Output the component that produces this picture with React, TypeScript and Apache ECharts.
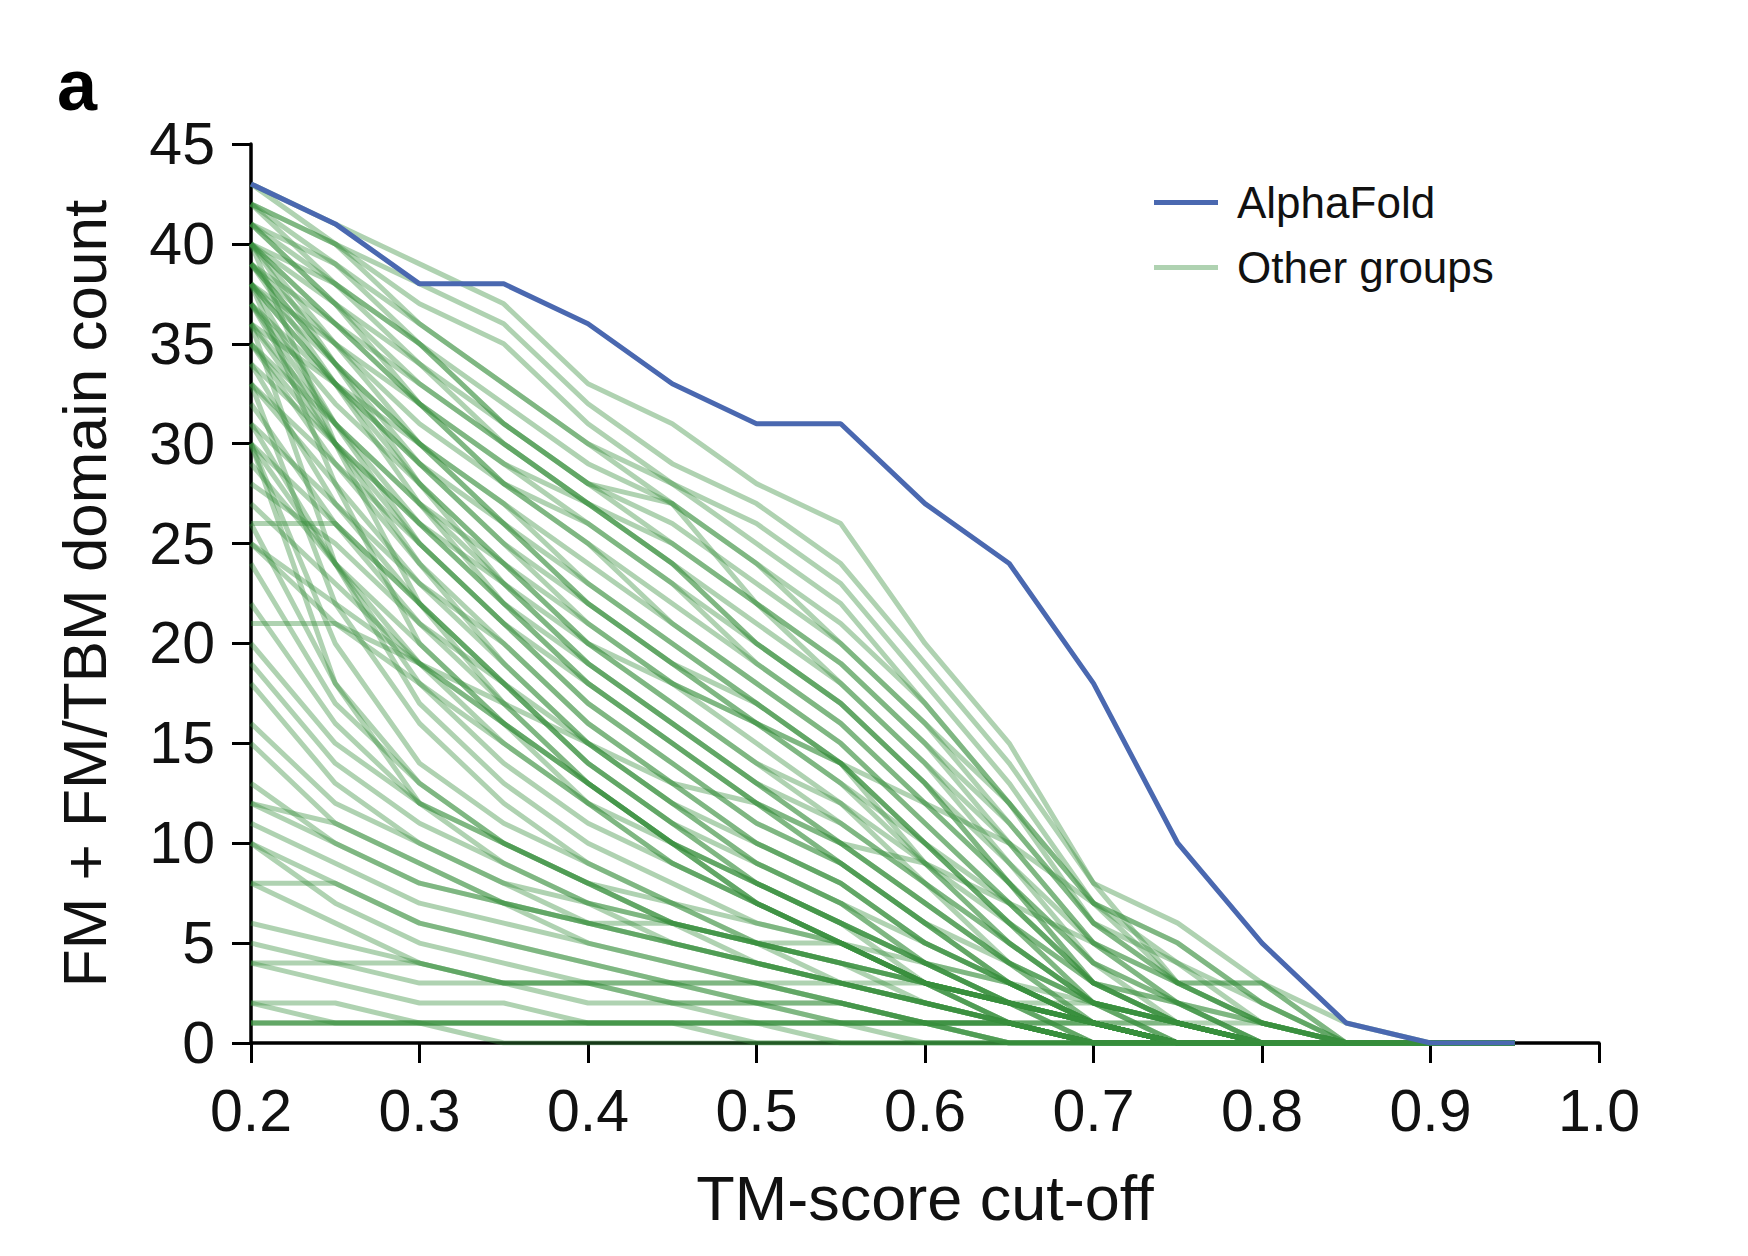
import React, { useEffect, useRef } from "react";
import * as echarts from "echarts";

const xValues = [0.2, 0.25, 0.3, 0.35, 0.4, 0.45, 0.5, 0.55, 0.6, 0.65, 0.7, 0.75, 0.8, 0.85, 0.9, 0.95];
const xTickLabels = ["0.2", "0.3", "0.4", "0.5", "0.6", "0.7", "0.8", "0.9", "1.0"];
const yTickLabels = ["0", "5", "10", "15", "20", "25", "30", "35", "40", "45"];

const alphaFold = [43, 41, 38, 38, 36, 33, 31, 31, 27, 24, 18, 10, 5, 1, 0, 0];

const otherGroups: number[][] = [
  [43, 41, 39, 37, 33, 31, 28, 26, 20, 15, 8, 6, 3, 1, 0, 0],
  [42, 40, 38, 36, 32, 29, 27, 24, 19, 14, 8, 3, 3, 0, 0, 0],
  [42, 40, 37, 35, 31, 28, 26, 23, 18, 13, 7, 5, 2, 0, 0, 0],
  [41, 39, 36, 33, 30, 28, 25, 22, 17, 12, 7, 4, 2, 0, 0, 0],
  [43, 40, 36, 33, 30, 27, 24, 21, 17, 12, 6, 4, 1, 0, 0, 0],
  [41, 38, 35, 32, 29, 27, 24, 20, 16, 11, 6, 3, 1, 0, 0, 0],
  [40, 38, 35, 31, 28, 26, 23, 20, 16, 12, 7, 5, 2, 0, 0, 0],
  [42, 39, 35, 31, 28, 25, 22, 19, 15, 11, 6, 3, 1, 0, 0, 0],
  [40, 37, 34, 31, 28, 27, 22, 19, 15, 10, 5, 3, 1, 0, 0, 0],
  [41, 37, 33, 30, 27, 25, 22, 18, 14, 10, 5, 2, 1, 0, 0, 0],
  [39, 36, 33, 30, 27, 24, 21, 18, 14, 9, 5, 2, 0, 0, 0, 0],
  [40, 36, 32, 29, 27, 24, 20, 17, 13, 9, 4, 2, 0, 0, 0, 0],
  [42, 38, 34, 30, 27, 24, 20, 17, 13, 8, 4, 2, 1, 0, 0, 0],
  [39, 35, 32, 29, 26, 23, 20, 17, 13, 8, 4, 1, 0, 0, 0, 0],
  [38, 35, 31, 28, 26, 23, 19, 16, 12, 8, 3, 1, 0, 0, 0, 0],
  [40, 36, 32, 28, 25, 22, 19, 16, 12, 8, 3, 2, 0, 0, 0, 0],
  [41, 37, 32, 28, 25, 21, 18, 15, 11, 7, 3, 1, 0, 0, 0, 0],
  [38, 34, 30, 27, 24, 21, 18, 15, 11, 7, 3, 1, 0, 0, 0, 0],
  [39, 34, 30, 27, 23, 20, 17, 14, 10, 6, 3, 1, 0, 0, 0, 0],
  [37, 33, 30, 26, 23, 20, 17, 14, 10, 6, 2, 1, 0, 0, 0, 0],
  [40, 35, 30, 26, 22, 19, 17, 14, 10, 7, 3, 2, 0, 0, 0, 0],
  [38, 33, 29, 25, 22, 19, 16, 13, 9, 6, 2, 1, 0, 0, 0, 0],
  [36, 33, 29, 26, 22, 19, 16, 13, 10, 6, 3, 1, 0, 0, 0, 0],
  [39, 34, 29, 25, 21, 18, 16, 14, 9, 5, 2, 0, 0, 0, 0, 0],
  [37, 32, 28, 24, 21, 18, 15, 12, 9, 5, 2, 1, 0, 0, 0, 0],
  [38, 33, 28, 24, 20, 17, 14, 11, 8, 5, 2, 0, 0, 0, 0, 0],
  [36, 31, 27, 24, 20, 17, 14, 12, 8, 5, 2, 1, 0, 0, 0, 0],
  [40, 34, 28, 23, 19, 16, 13, 11, 8, 4, 1, 0, 0, 0, 0, 0],
  [35, 31, 27, 23, 19, 16, 13, 10, 7, 4, 1, 0, 0, 0, 0, 0],
  [37, 31, 26, 22, 19, 16, 13, 10, 7, 4, 2, 0, 0, 0, 0, 0],
  [39, 33, 27, 22, 18, 15, 12, 10, 7, 4, 2, 1, 0, 0, 0, 0],
  [34, 30, 26, 22, 18, 15, 12, 9, 6, 3, 1, 0, 0, 0, 0, 0],
  [36, 30, 25, 21, 18, 15, 12, 9, 6, 3, 1, 0, 0, 0, 0, 0],
  [38, 31, 25, 21, 17, 14, 11, 9, 6, 3, 1, 0, 0, 0, 0, 0],
  [33, 29, 25, 21, 17, 14, 11, 9, 6, 4, 2, 1, 0, 0, 0, 0],
  [35, 29, 24, 20, 16, 13, 10, 8, 5, 3, 1, 0, 0, 0, 0, 0],
  [31, 27, 23, 20, 16, 13, 10, 8, 5, 3, 1, 0, 0, 0, 0, 0],
  [37, 30, 24, 19, 15, 12, 10, 8, 5, 3, 1, 0, 0, 0, 0, 0],
  [33, 28, 23, 19, 15, 12, 9, 7, 5, 3, 1, 0, 0, 0, 0, 0],
  [30, 26, 22, 18, 15, 12, 9, 7, 4, 2, 1, 0, 0, 0, 0, 0],
  [34, 27, 22, 18, 14, 11, 9, 7, 4, 2, 0, 0, 0, 0, 0, 0],
  [28, 25, 21, 18, 14, 11, 8, 6, 4, 2, 1, 0, 0, 0, 0, 0],
  [32, 26, 21, 17, 13, 10, 8, 6, 4, 2, 1, 0, 0, 0, 0, 0],
  [26, 26, 22, 18, 14, 11, 8, 6, 4, 2, 0, 0, 0, 0, 0, 0],
  [30, 24, 19, 16, 13, 10, 8, 6, 3, 2, 1, 0, 0, 0, 0, 0],
  [29, 24, 20, 16, 12, 10, 7, 5, 3, 2, 0, 0, 0, 0, 0, 0],
  [27, 23, 19, 15, 12, 9, 7, 5, 3, 1, 0, 0, 0, 0, 0, 0],
  [31, 24, 18, 14, 11, 9, 7, 5, 3, 1, 0, 0, 0, 0, 0, 0],
  [25, 21, 18, 15, 12, 9, 7, 5, 3, 1, 0, 0, 0, 0, 0, 0],
  [21, 21, 19, 16, 13, 10, 7, 5, 3, 1, 0, 0, 0, 0, 0, 0],
  [33, 22, 16, 12, 9, 7, 5, 4, 3, 2, 1, 0, 0, 0, 0, 0],
  [30, 20, 14, 11, 9, 7, 6, 5, 3, 2, 1, 0, 0, 0, 0, 0],
  [26, 18, 13, 10, 8, 6, 5, 4, 2, 1, 0, 0, 0, 0, 0, 0],
  [24, 17, 13, 10, 8, 6, 5, 3, 2, 1, 0, 0, 0, 0, 0, 0],
  [22, 16, 12, 10, 8, 6, 4, 3, 2, 1, 0, 0, 0, 0, 0, 0],
  [20, 15, 12, 10, 8, 7, 5, 4, 3, 2, 1, 0, 0, 0, 0, 0],
  [19, 14, 11, 9, 7, 6, 5, 4, 3, 2, 1, 0, 0, 0, 0, 0],
  [18, 13, 10, 8, 7, 6, 5, 4, 3, 2, 1, 0, 0, 0, 0, 0],
  [16, 12, 10, 8, 6, 5, 4, 3, 2, 1, 0, 0, 0, 0, 0, 0],
  [15, 11, 9, 7, 6, 5, 4, 3, 2, 1, 0, 0, 0, 0, 0, 0],
  [13, 10, 8, 7, 6, 5, 4, 3, 2, 1, 0, 0, 0, 0, 0, 0],
  [12, 11, 9, 7, 5, 4, 3, 2, 1, 0, 0, 0, 0, 0, 0, 0],
  [11, 9, 7, 6, 5, 4, 3, 2, 1, 1, 0, 0, 0, 0, 0, 0],
  [10, 8, 6, 5, 4, 3, 3, 2, 1, 0, 0, 0, 0, 0, 0, 0],
  [10, 7, 5, 4, 3, 3, 2, 2, 1, 1, 0, 0, 0, 0, 0, 0],
  [8, 8, 6, 5, 4, 3, 2, 1, 1, 0, 0, 0, 0, 0, 0, 0],
  [8, 6, 4, 3, 3, 2, 2, 1, 1, 0, 0, 0, 0, 0, 0, 0],
  [5, 4, 3, 3, 2, 2, 1, 1, 0, 0, 0, 0, 0, 0, 0, 0],
  [4, 4, 4, 3, 3, 2, 2, 2, 1, 1, 0, 0, 0, 0, 0, 0],
  [4, 3, 2, 2, 1, 1, 1, 0, 0, 0, 0, 0, 0, 0, 0, 0],
  [2, 1, 1, 0, 0, 0, 0, 0, 0, 0, 0, 0, 0, 0, 0, 0],
  [1, 1, 1, 1, 1, 1, 1, 1, 1, 1, 1, 1, 0, 0, 0, 0],
  [1, 1, 1, 1, 1, 1, 1, 1, 1, 1, 1, 1, 1, 0, 0, 0],
  [1, 1, 1, 1, 1, 1, 1, 1, 1, 1, 1, 0, 0, 0, 0, 0],
  [2, 2, 1, 1, 1, 1, 0, 0, 0, 0, 0, 0, 0, 0, 0, 0],
  [6, 5, 4, 3, 3, 3, 3, 3, 3, 2, 2, 1, 0, 0, 0, 0],
  [12, 10, 8, 7, 6, 6, 5, 5, 4, 3, 2, 1, 0, 0, 0, 0],
  [25, 22, 19, 17, 15, 13, 12, 10, 9, 7, 5, 3, 1, 0, 0, 0],
  [35, 30, 26, 23, 20, 18, 16, 14, 12, 10, 7, 3, 3, 0, 0, 0],
  [38, 28, 20, 16, 13, 10, 8, 6, 4, 3, 1, 0, 0, 0, 0, 0],
  [36, 24, 17, 13, 10, 8, 6, 5, 3, 2, 1, 0, 0, 0, 0, 0],
  [40, 30, 22, 17, 13, 10, 7, 5, 3, 2, 1, 0, 0, 0, 0, 0],
  [30, 18, 12, 9, 7, 5, 4, 3, 2, 1, 0, 0, 0, 0, 0, 0],
];

const FONT = "'Liberation Sans', Arial, Helvetica, sans-serif";
const GREEN = "rgba(56,142,60,0.4)";
const BLUE = "#4a68b0";

export default function App() {
  const ref = useRef<HTMLDivElement>(null);
  useEffect(() => {
    if (!ref.current) return;
    const chart = echarts.init(ref.current, undefined, { renderer: "svg" });
    const greenSeries = otherGroups.map((vals) => ({
      name: "Other groups",
      type: "line",
      data: xValues.map((x, i) => [x, vals[i]]),
      showSymbol: false,
      symbol: "none",
      silent: true,
      lineStyle: { color: GREEN, width: 5 },
      itemStyle: { color: GREEN },
      z: 2,
    }));
    chart.setOption({
      animation: false,
      textStyle: { fontFamily: FONT },
      title: {
        text: "a",
        left: 52,
        top: 44,
        textStyle: { fontSize: 72, fontWeight: "bold", color: "#000", fontFamily: FONT },
      },
      legend: {
        data: ["AlphaFold", "Other groups"],
        orient: "vertical",
        left: 1149,
        top: 172,
        icon: "rect",
        itemWidth: 64,
        itemHeight: 5,
        itemGap: 14,
        textStyle: { fontSize: 44, color: "#111", fontFamily: FONT, lineHeight: 51, padding: [0, 0, 0, 14] },
      },
      grid: { left: 251, right: 149, top: 144, bottom: 213, containLabel: false },
      xAxis: {
        type: "value",
        min: 0.2,
        max: 1.0,
        interval: 0.1,
        name: "TM-score cut-off",
        nameLocation: "middle",
        nameGap: 123,
        nameTextStyle: { fontSize: 63, color: "#111", fontFamily: FONT },
        axisLine: { show: true, lineStyle: { color: "#000", width: 3.5 } },
        axisTick: { show: true, inside: false, length: 20, lineStyle: { color: "#000", width: 3 } },
        axisLabel: {
          fontSize: 59,
          color: "#111",
          margin: 38,
          formatter: (v: number) => {
            const idx = Math.round((v - 0.2) / 0.1);
            return xTickLabels[idx] ?? "";
          },
        },
        splitLine: { show: false },
      },
      yAxis: {
        type: "value",
        min: 0,
        max: 45,
        interval: 5,
        name: "FM + FM/TBM domain count",
        nameLocation: "middle",
        nameGap: 136,
        nameRotate: 90,
        nameTextStyle: { fontSize: 62, color: "#111", fontFamily: FONT },
        axisLine: { show: true, lineStyle: { color: "#000", width: 3.5 } },
        axisTick: { show: true, inside: false, length: 19, lineStyle: { color: "#000", width: 3 } },
        axisLabel: {
          fontSize: 59,
          color: "#111",
          margin: 36,
          formatter: (v: number) => yTickLabels[Math.round(v / 5)] ?? "",
        },
        splitLine: { show: false },
      },
      series: [
        ...greenSeries,
        {
          name: "AlphaFold",
          type: "line",
          data: xValues.map((x, i) => [x, alphaFold[i]]),
          showSymbol: false,
          symbol: "none",
          lineStyle: { color: BLUE, width: 5 },
          itemStyle: { color: BLUE },
          z: 5,
        },
      ],
    });
    return () => chart.dispose();
  }, []);
  return (
    <div
      ref={ref}
      style={{ position: "absolute", left: 0, top: 0, width: 1748, height: 1256, background: "#fff" }}
    />
  );
}
